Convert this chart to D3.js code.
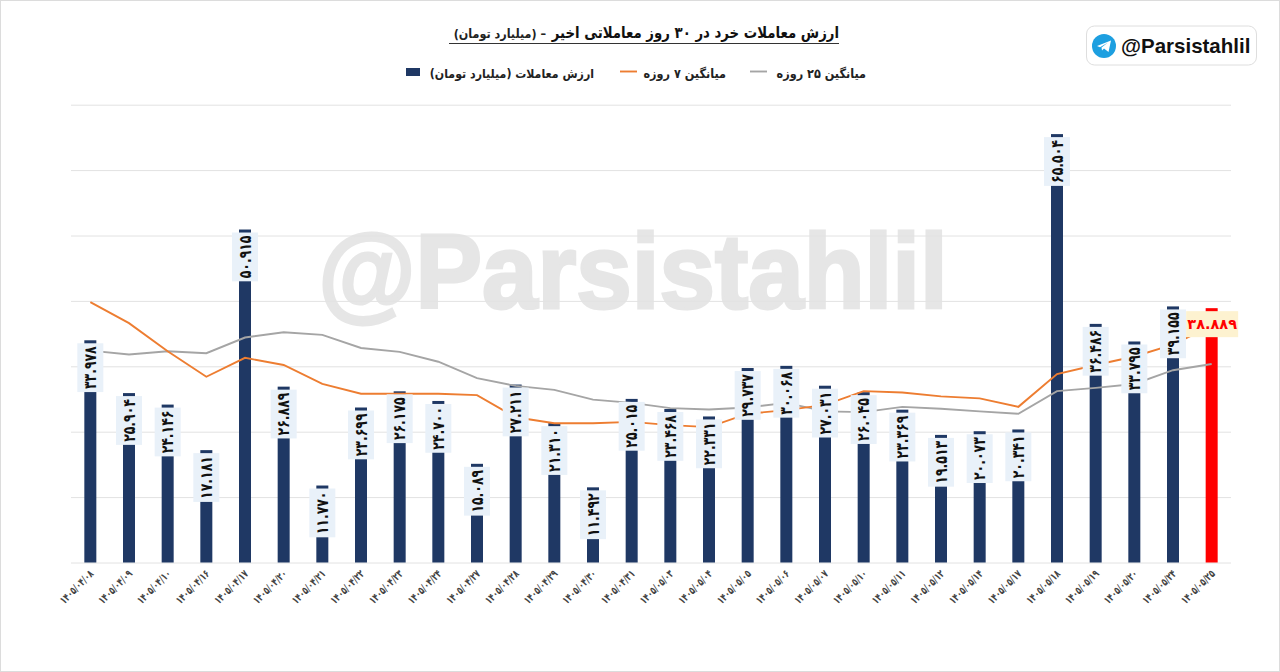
<!DOCTYPE html>
<html>
<head>
<meta charset="utf-8">
<script src="https://cdn.jsdelivr.net/npm/d3@7"></script>
<style>
  html, body { margin: 0; padding: 0; background: #fff; }
  svg { display: block; }
  text { font-family: "DejaVu Sans", sans-serif; }
</style>
</head>
<body>
<div id="canvas"></div>
<script>
const dates = ["۱۴۰۵/۰۴/۰۸", "۱۴۰۵/۰۴/۰۹", "۱۴۰۵/۰۴/۱۰", "۱۴۰۵/۰۴/۱۶", "۱۴۰۵/۰۴/۱۷", "۱۴۰۵/۰۴/۲۰",
    "۱۴۰۵/۰۴/۲۱", "۱۴۰۵/۰۴/۲۲", "۱۴۰۵/۰۴/۲۳", "۱۴۰۵/۰۴/۲۴", "۱۴۰۵/۰۴/۲۷", "۱۴۰۵/۰۴/۲۸",
    "۱۴۰۵/۰۴/۲۹", "۱۴۰۵/۰۴/۳۰", "۱۴۰۵/۰۴/۳۱", "۱۴۰۵/۰۵/۰۳", "۱۴۰۵/۰۵/۰۴", "۱۴۰۵/۰۵/۰۵",
    "۱۴۰۵/۰۵/۰۶", "۱۴۰۵/۰۵/۰۷", "۱۴۰۵/۰۵/۱۰", "۱۴۰۵/۰۵/۱۱", "۱۴۰۵/۰۵/۱۲", "۱۴۰۵/۰۵/۱۴",
    "۱۴۰۵/۰۵/۱۷", "۱۴۰۵/۰۵/۱۸", "۱۴۰۵/۰۵/۱۹", "۱۴۰۵/۰۵/۲۰", "۱۴۰۵/۰۵/۲۴", "۱۴۰۵/۰۵/۲۵"];
const tradeValue = [33.978, 25.904, 24.146, 17.181, 50.915, 26.889, 11.770, 23.699, 26.175, 24.700,
    15.089, 27.211, 21.310, 11.492, 25.015, 23.468, 22.331, 29.737, 30.068, 27.031,
    26.045, 23.369, 19.513, 20.073, 20.341, 65.504, 36.486, 33.795, 39.155, 38.889];
const ma7 = [39.8, 36.6, 32.3, 28.4, 31.3, 30.2, 27.3, 25.8, 25.8, 25.8,
    25.6, 22.2, 21.3, 21.3, 21.5, 21.0, 20.7, 22.75, 23.3, 24.1,
    26.2, 26.0, 25.4, 25.1, 23.8, 28.8, 30.2, 31.5, 33.3, 36.2];
const ma25 = [32.4, 31.8, 32.3, 32.0, 34.4, 35.2, 34.8, 32.8, 32.2, 30.7,
    28.2, 27.0, 26.4, 24.9, 24.4, 23.6, 23.4, 23.7, 24.4, 23.1,
    23.0, 23.8, 23.5, 23.1, 22.75, 26.2, 26.7, 27.3, 29.4, 30.35];
const yTicks = [0, 10, 20, 30, 40, 50, 60, 70];

const titleMain = "ارزش معاملات خرد در ۳۰ روز معاملاتی اخیر";
const titleUnit = "– (میلیارد تومان)";
const legendBar = "ارزش معاملات (میلیارد تومان)";
const legend7 = "میانگین ۷ روزه";
const legend25 = "میانگین ۲۵ روزه";
const handle = "@Parsistahlil";

const width = 1280;
const height = 672;
const navy = "#1f3864";

const faDigits = "۰۱۲۳۴۵۶۷۸۹";
function toFa(v) {
    return v.toFixed(3).replace(/\d/g, d => faDigits[+d]);
}

const svg = d3.select("#canvas").append("svg")
    .attr("width", width)
    .attr("height", height);

svg.append("rect")
    .attr("x", 0.5).attr("y", 0.5)
    .attr("width", width - 1).attr("height", height - 1)
    .attr("fill", "#fff").attr("stroke", "#dcdcdc");

const x = d3.scaleBand().domain(dates).range([71, 1231]);
const y = d3.scaleLinear().domain([0, 70]).range([562.5, 104.7]);
const cx = d => x(d) + x.bandwidth() / 2;

// watermark
svg.append("text")
    .attr("transform", "translate(633,308) scale(0.95,1)")
    .attr("text-anchor", "middle")
    .style("font-family", "'Liberation Sans', sans-serif")
    .style("font-weight", "bold")
    .style("font-size", "105px")
    .attr("fill", "#e6e6e6")
    .attr("stroke", "#e6e6e6")
    .attr("stroke-width", 3)
    .text(handle);

// grid
const grid = svg.append("g").attr("transform", "translate(71,0)")
    .call(d3.axisLeft(y).tickValues(yTicks).tickSize(-1160).tickFormat(""));
grid.select(".domain").remove();
grid.selectAll("line").attr("stroke", "#e2e2e2").attr("stroke-width", 1);

// bars
svg.append("g").selectAll("rect").data(dates).join("rect")
    .attr("x", d => cx(d) - 6)
    .attr("width", 12)
    .attr("y", (d, i) => y(tradeValue[i]))
    .attr("height", (d, i) => y(0) - y(tradeValue[i]))
    .attr("fill", (d, i) => i === dates.length - 1 ? "#ff0000" : navy);

// moving averages
const lineOf = vals => d3.line().x((d, i) => cx(dates[i])).y(d => y(d))(vals);
svg.append("path").attr("d", lineOf(ma25)).attr("fill", "none").attr("stroke", "#a5a5a5").attr("stroke-width", 1.9);
svg.append("path").attr("d", lineOf(ma7)).attr("fill", "none").attr("stroke", "#ed7d31").attr("stroke-width", 1.9);

// bar value labels, rotated
const sx = 0.86, sy = 1.15;
const labels = svg.append("g").selectAll("g").data(dates.slice(0, -1)).join("g")
    .attr("transform", (d, i) => `translate(${cx(d)},${y(tradeValue[i]) + 3}) rotate(-90)`);
labels.each(function (d, i) {
    const g = d3.select(this);
    const t = g.append("text")
        .attr("transform", `translate(-3,5.5) scale(${sx},${sy})`)
        .attr("text-anchor", "end")
        .attr("fill", "#111")
        .style("font-size", "14.5px")
        .style("font-weight", "bold")
        .text(toFa(tradeValue[i]));
    const w = t.node().getBBox().width * sx + 6;
    g.insert("rect", "text")
        .attr("x", -w).attr("y", -13)
        .attr("width", w).attr("height", 26)
        .attr("fill", "#e9f1f9");
});

// last bar label is horizontal
const lastDate = dates[dates.length - 1];
const lastVal = tradeValue[tradeValue.length - 1];
const lastLabel = svg.append("g");
lastLabel.append("rect")
    .attr("x", cx(lastDate) - 25.5).attr("y", y(lastVal) + 3)
    .attr("width", 52).attr("height", 26)
    .attr("fill", "#fdf2d0");
lastLabel.append("text")
    .attr("x", cx(lastDate) + 0.5).attr("y", y(lastVal) + 21)
    .attr("text-anchor", "middle")
    .attr("fill", "#ff0000")
    .style("font-size", "14.5px")
    .style("font-weight", "bold")
    .text(toFa(lastVal));

// x axis
const xAxis = svg.append("g").attr("transform", "translate(0,562.5)")
    .call(d3.axisBottom(x).tickSize(0));
xAxis.select(".domain").remove();
xAxis.selectAll("text")
    .attr("text-anchor", "end")
    .attr("x", 0).attr("y", 0)
    .attr("dx", 0).attr("dy", 0)
    .attr("transform", "translate(4,12) rotate(-45) scale(0.8,1.15)")
    .attr("fill", "#444")
    .style("font-family", "'DejaVu Sans', sans-serif")
    .style("font-size", "9.5px")
    .style("font-weight", "bold");

// title
svg.append("text")
    .attr("transform", "translate(839,38) scale(0.887,1.05)")
    .attr("direction", "rtl")
    .attr("text-anchor", "start")
    .attr("fill", "#111")
    .style("font-weight", "bold")
    .style("font-size", "15px")
    .text(titleMain);
svg.append("text")
    .attr("transform", "translate(546,38) scale(0.88,1)")
    .attr("direction", "rtl")
    .attr("text-anchor", "start")
    .attr("fill", "#222")
    .style("font-weight", "bold")
    .style("font-size", "12.7px")
    .text(titleUnit);
svg.append("line")
    .attr("x1", 449).attr("x2", 839).attr("y1", 43.5).attr("y2", 43.5)
    .attr("stroke", "#333");

// legend
const legendStyle = (sel, px, size) => sel
    .attr("transform", `translate(${px},78) scale(0.88,1)`)
    .attr("direction", "rtl")
    .attr("text-anchor", "start")
    .attr("fill", "#222")
    .style("font-weight", "bold")
    .style("font-size", size + "px");
svg.append("rect").attr("x", 406).attr("y", 68).attr("width", 14).attr("height", 8).attr("fill", navy);
svg.append("text").call(legendStyle, 594, 12.5).text(legendBar);
svg.append("line").attr("x1", 620).attr("x2", 637).attr("y1", 71.5).attr("y2", 71.5).attr("stroke", "#ed7d31").attr("stroke-width", 1.9);
svg.append("text").call(legendStyle, 726, 12.8).text(legend7);
svg.append("line").attr("x1", 750).attr("x2", 767).attr("y1", 71.5).attr("y2", 71.5).attr("stroke", "#a5a5a5").attr("stroke-width", 1.9);
svg.append("text").call(legendStyle, 866, 12.8).text(legend25);

// telegram badge
const badge = svg.append("g");
badge.append("rect")
    .attr("x", 1086.5).attr("y", 26).attr("width", 170).attr("height", 39).attr("rx", 8)
    .attr("fill", "#fff").attr("stroke", "#dedede");
badge.append("circle").attr("cx", 1104).attr("cy", 46).attr("r", 12).attr("fill", "#1d9fe0");
badge.append("path")
    .attr("d", "M1097 46 L1111 40.5 L1108.5 52 L1104 48.5 L1102 50.5 L1101.5 47.5 L1108 42.5 L1100 47.2 Z")
    .attr("fill", "#fff");
badge.append("text")
    .attr("x", 1121).attr("y", 53)
    .attr("fill", "#111")
    .style("font-family", "'Liberation Sans', sans-serif")
    .style("font-weight", "bold")
    .style("font-size", "20.5px")
    .text(handle);
</script>
</body>
</html>
